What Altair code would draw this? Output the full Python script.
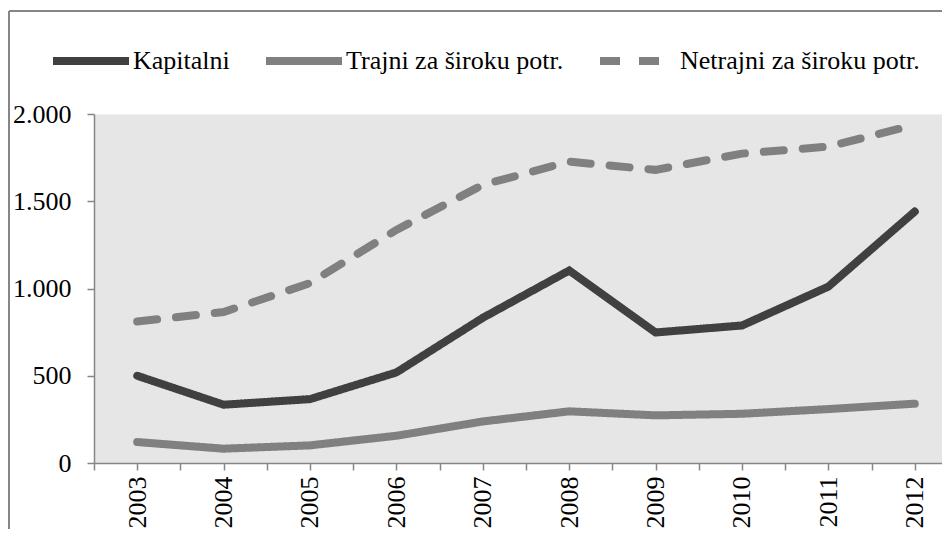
import altair as alt
import pandas as pd

years = [2003, 2004, 2005, 2006, 2007, 2008, 2009, 2010, 2011, 2012]
kapitalni = [500, 334, 366, 519, 832, 1103, 748, 788, 1011, 1441]
trajni = [120, 82, 101, 156, 238, 296, 273, 282, 309, 340]
netrajni = [811, 865, 1031, 1336, 1594, 1727, 1680, 1773, 1813, 1938]

series_names = ["Kapitalni", "Trajni za široku potr.", "Netrajni za široku potr."]
series_colors = ["#404040", "#808080", "#808080"]
series_dash = [[1, 0], [1, 0], [20, 19]]
y_ticks = [0, 500, 1000, 1500, 2000]
x_ticks = [2002.5 + 0.5 * i for i in range(20)]

rows = []
for name, vals in zip(series_names, [kapitalni, trajni, netrajni]):
    for yr, v in zip(years, vals):
        rows.append({"year": yr, "value": v, "series": name})
df = pd.DataFrame(rows)

FONT = "Liberation Serif"
FS = 26
GRAY = "#868686"

legend = alt.Legend(
    title=None,
    orient="none",
    legendX=-45,
    legendY=-95,
    direction="horizontal",
    columns=3,
    symbolType="stroke",
    symbolSize=5776,
    symbolStrokeWidth=8,
    labelFont=FONT,
    labelFontSize=FS,
    labelColor="black",
    labelOffset=0,
    columnPadding=20,
    padding=0,
    labelLimit=400,
)

lines = alt.Chart(df).mark_line(strokeWidth=8, strokeCap="round", strokeJoin="miter").encode(
    x=alt.X(
        "year:Q",
        scale=alt.Scale(domain=[2002.5, 2012.315], nice=False, zero=False),
        axis=alt.Axis(
            values=x_ticks,
            labelExpr="datum.value % 1 == 0 ? toString(datum.value) : ''",
            labelAngle=-90,
            labelFont=FONT,
            labelFontSize=FS,
            labelColor="black",
            labelPadding=6,
            tickSize=7,
            tickColor=GRAY,
            tickWidth=1.5,
            domainColor=GRAY,
            domainWidth=1.5,
            grid=False,
            title=None,
            labelOverlap=False,
        ),
    ),
    y=alt.Y(
        "value:Q",
        scale=alt.Scale(domain=[0, 2000], nice=False),
        axis=alt.Axis(
            values=y_ticks,
            labelExpr="replace(format(datum.value, ','), ',', '.')",
            labelFont=FONT,
            labelFontSize=FS,
            labelColor="black",
            labelPadding=16,
            tickSize=7,
            tickColor=GRAY,
            tickWidth=1.5,
            domainColor=GRAY,
            domainWidth=1.5,
            grid=False,
            title=None,
        ),
    ),
    color=alt.Color(
        "series:N",
        scale=alt.Scale(domain=series_names, range=series_colors),
        legend=legend,
    ),
    strokeDash=alt.StrokeDash(
        "series:N",
        scale=alt.Scale(domain=series_names, range=series_dash),
        legend=legend,
    ),
)

border_src = pd.DataFrame({"a": [0]})
border_left = alt.Chart(border_src).mark_rule(color=GRAY, strokeWidth=2).encode(
    x=alt.value(-85), y=alt.value(-103), y2=alt.value(460)
)
border_top = alt.Chart(border_src).mark_rule(color=GRAY, strokeWidth=2).encode(
    x=alt.value(-85), x2=alt.value(900), y=alt.value(-103)
)

chart = (
    alt.layer(lines, border_left, border_top)
    .properties(
        width=848,
        height=349,
        padding={"left": 86, "top": 106, "right": 0, "bottom": 66},
        autosize=alt.AutoSizeParams(type="none"),
        background="white",
    )
    .configure_view(fill="#e6e6e6", stroke="transparent")
)

chart.save("out.html", embed_options={"renderer": "svg", "actions": False})
